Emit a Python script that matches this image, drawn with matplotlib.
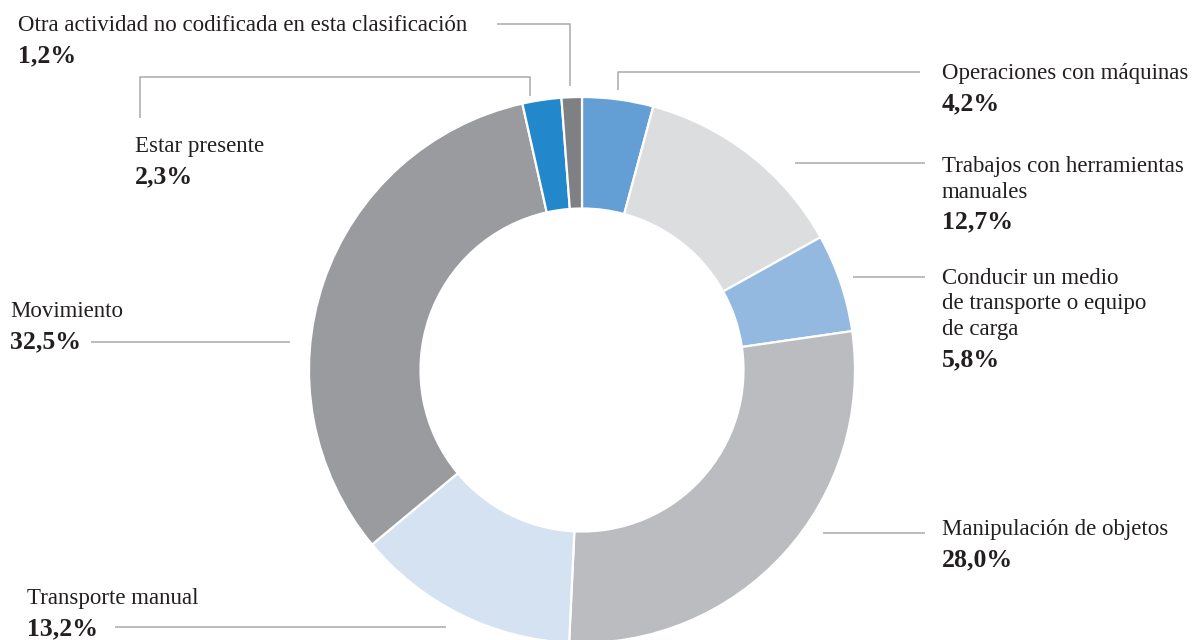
import matplotlib.pyplot as plt

# Accident activity share (%), clockwise from the top
labels = [
    'Operaciones con máquinas',
    'Trabajos con herramientas\nmanuales',
    'Conducir un medio\nde transporte o equipo\nde carga',
    'Manipulación de objetos',
    'Transporte manual',
    'Movimiento',
    'Estar presente',
    'Otra actividad no codificada en esta clasificación',
]
values = [4.2, 12.7, 5.8, 28.0, 13.2, 32.5, 2.3, 1.2]
colors = ['#639fd5', '#dcdddf', '#94b9e0', '#bbbcc0',
          '#d4e2f2', '#9a9b9f', '#2288cb', '#7f8084']

# label block: x, first baseline (pixels)
label_pos = [(942, 79), (942, 172), (942, 284), (942, 535),
             (27, 604), (10, 317), (135, 152), (18, 31)]

# leader lines as pixel polylines
leaders = [
    [(618, 90), (618, 72), (920, 72)],
    [(795, 163), (925, 163)],
    [(853, 277), (925, 277)],
    [(823, 533), (925, 533)],
    [(115, 627), (446, 627)],
    [(91, 342), (290, 342)],
    [(140, 118), (140, 77), (530, 77), (530, 96)],
    [(497, 24), (570, 24), (570, 86)],
]

TEXT = '#231f20'
LINE = '#a9aaad'
plt.rcParams['font.family'] = ['Liberation Serif', 'DejaVu Serif']

fig = plt.figure(figsize=(11.98, 6.40), dpi=100)
ax = fig.add_axes([0, 0, 1, 1])

ax.pie(values, colors=colors, center=(582, 370), radius=273,
       startangle=-90, counterclock=True,
       wedgeprops=dict(width=111.5, edgecolor='white', linewidth=1.6))

ax.set_xlim(0, 1198)
ax.set_ylim(640, 0)
ax.set_aspect('equal')
ax.axis('off')

for pts in leaders:
    xs = [p[0] for p in pts]
    ys = [p[1] for p in pts]
    ax.plot(xs, ys, color=LINE, lw=1.1, solid_capstyle='butt')

for lab, val, (x, y) in zip(labels, values, label_pos):
    lines = lab.split('\n')
    for i, ln in enumerate(lines):
        ax.text(x, y + i * 25.5, ln, fontsize=16.5, color=TEXT,
                ha='left', va='baseline')
    vy = y + (len(lines) - 1) * 25.5 + 31
    ax.text(x, vy, f'{val:.1f}%'.replace('.', ','), fontsize=18.5,
            fontweight='bold', color=TEXT, ha='left', va='baseline')

fig.savefig('out.png', dpi=100)
